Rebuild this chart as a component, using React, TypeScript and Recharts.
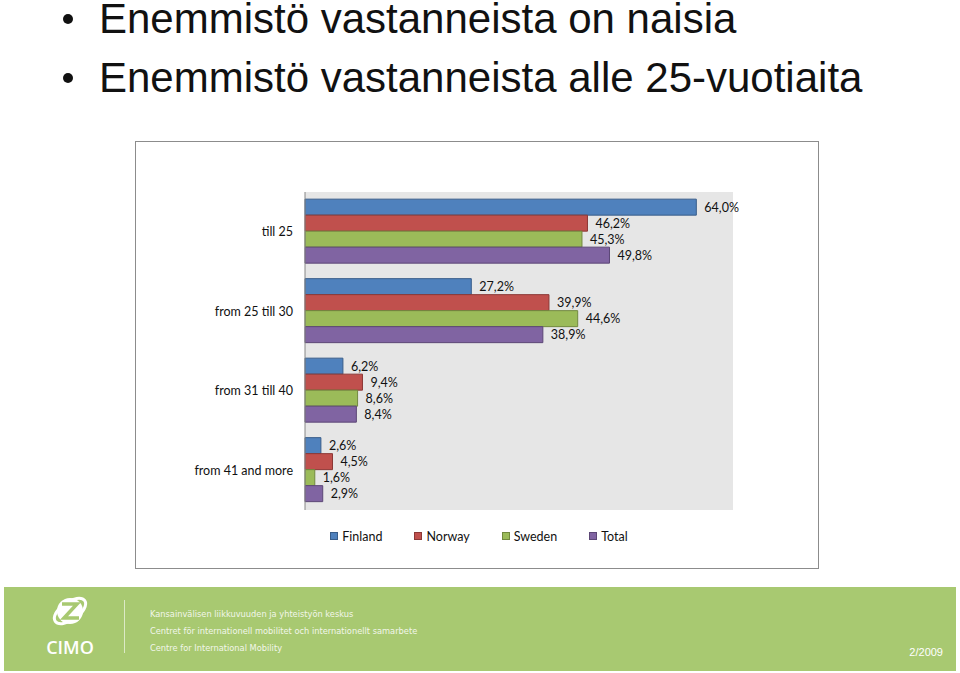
import React from "react";
import { BarChart, Bar, XAxis, YAxis, CartesianGrid, LabelList, Legend } from "recharts";

// age groups (vertical axis) and the share per country, in %
const categories = ["till 25", "from 25 till 30", "from 31 till 40", "from 41 and more"];
const finland = [64.0, 27.2, 6.2, 2.6];
const norway = [46.2, 39.9, 9.4, 4.5];
const sweden = [45.3, 44.6, 8.6, 1.6];
const total = [49.8, 38.9, 8.4, 2.9];

const seriesNames = ["Finland", "Norway", "Sweden", "Total"];
const seriesKeys = ["finland", "norway", "sweden", "total"];
const fills = ["#4f81bd", "#c0504d", "#9bbb59", "#8064a2"];
const strokes = ["#385d8a", "#8c3836", "#71893f", "#5c4776"];

const titleLines = ["Enemmistö vastanneista on naisia", "Enemmistö vastanneista alle 25-vuotiaita"];
const footerLines = [
  "Kansainvälisen liikkuvuuden ja yhteistyön keskus",
  "Centret för internationell mobilitet och internationellt samarbete",
  "Centre for International Mobility",
];

const data = categories.map((category, i) => ({
  category,
  finland: finland[i],
  norway: norway[i],
  sweden: sweden[i],
  total: total[i],
}));

const chartFont = "Lato, 'Open Sans', sans-serif";
const fmt = (v: any) => Number(v).toFixed(1).replace(".", ",") + "%";

const renderLegend = () => (
  <div
    style={{
      display: "flex",
      justifyContent: "center",
      alignItems: "center",
      height: 20,
      paddingLeft: 4,
      fontFamily: chartFont,
      fontSize: 12.5,
      color: "#111",
    }}
  >
    {seriesNames.map((name, i) => (
      <span key={name} style={{ display: "inline-flex", alignItems: "center", marginRight: i < 3 ? 32 : 0 }}>
        <span
          style={{
            width: 6,
            height: 6,
            background: fills[i],
            border: `1px solid ${strokes[i]}`,
            marginRight: 4,
          }}
        />
        {name}
      </span>
    ))}
  </div>
);

const App = () => {
  return (
    <div
      style={{
        position: "absolute",
        left: 0,
        top: 0,
        width: 960,
        height: 673,
        background: "#fff",
        overflow: "hidden",
        fontFamily: "'Liberation Sans', Arial, sans-serif",
      }}
    >
      {/* bullet title lines */}
      {titleLines.map((line, i) => (
        <div key={i} style={{ position: "absolute", left: 0, top: -2 + i * 59, height: 42 }}>
          <span
            style={{
              position: "absolute",
              left: 63,
              top: 16,
              width: 10,
              height: 10,
              borderRadius: 5,
              background: "#111",
            }}
          />
          <span
            style={{
              position: "absolute",
              left: 99,
              top: 0,
              fontSize: 42,
              lineHeight: "42px",
              whiteSpace: "nowrap",
              color: "#111",
            }}
          >
            {line}
          </span>
        </div>
      ))}

      {/* chart box */}
      <div
        style={{
          position: "absolute",
          left: 135,
          top: 141,
          width: 682,
          height: 426,
          border: "1px solid #8c8c8c",
          background: "#fff",
        }}
      >
        <BarChart
          width={682}
          height={426}
          data={data}
          layout="vertical"
          margin={{ top: 50, right: 85, bottom: 38, left: 0 }}
          barCategoryGap="9%"
          barGap={0}
        >
          <CartesianGrid horizontal={false} vertical={false} fill="#e6e6e6" />
          <XAxis type="number" domain={[0, 70]} hide />
          <YAxis
            type="category"
            dataKey="category"
            width={169}
            tickLine={false}
            tickSize={0}
            tickMargin={12}
            axisLine={{ stroke: "#868686" }}
            tick={{ fill: "#111", fontSize: 12.5, fontFamily: chartFont }}
          />
          <Legend
            verticalAlign="bottom"
            content={renderLegend}
            wrapperStyle={{ left: 0, width: 682, bottom: 22 }}
          />
          {seriesKeys.map((key, i) => (
            <Bar
              key={key}
              dataKey={key}
              name={seriesNames[i]}
              fill={fills[i]}
              stroke={strokes[i]}
              strokeWidth={1}
              isAnimationActive={false}
            >
              <LabelList
                dataKey={key}
                position="right"
                offset={8}
                formatter={fmt}
                style={{ fill: "#111", fontSize: 12.5, fontFamily: chartFont }}
              />
            </Bar>
          ))}
        </BarChart>
      </div>

      {/* footer band */}
      <div
        style={{
          position: "absolute",
          left: 4,
          top: 587,
          width: 952,
          height: 84,
          background: "#a8c971",
        }}
      >
        <svg width={110} height={84} style={{ position: "absolute", left: 0, top: 0 }}>
          <ellipse cx={66} cy={24} rx={18} ry={9} fill="none" stroke="#fff" strokeWidth={3} transform="rotate(-35 66 24)" />
          <circle cx={66} cy={24} r={13} fill="#fff" />
          <path d="M58 17 L73 17 L60 31 L75 31" fill="none" stroke="#a8c971" strokeWidth={3.5} />
          <text x={66} y={67} textAnchor="middle" fill="#fff" fontSize={18} fontFamily="'Open Sans', sans-serif" fontWeight={600}>
            CIMO
          </text>
        </svg>
        <div
          style={{
            position: "absolute",
            left: 120,
            top: 13,
            width: 1,
            height: 53,
            background: "rgba(255,255,255,0.6)",
          }}
        />
        {footerLines.map((line, i) => (
          <div
            key={i}
            style={{
              position: "absolute",
              left: 146,
              top: 21 + i * 17,
              fontSize: 9.2,
              lineHeight: "12px",
              fontFamily: "'DejaVu Sans Condensed', 'DejaVu Sans', sans-serif",
              color: "#f2f6ea",
              whiteSpace: "nowrap",
            }}
          >
            {line}
          </div>
        ))}
        <div
          style={{
            position: "absolute",
            right: 13,
            top: 58,
            fontSize: 11,
            lineHeight: "14px",
            color: "#fff",
          }}
        >
          2/2009
        </div>
      </div>
    </div>
  );
};

export default App;
